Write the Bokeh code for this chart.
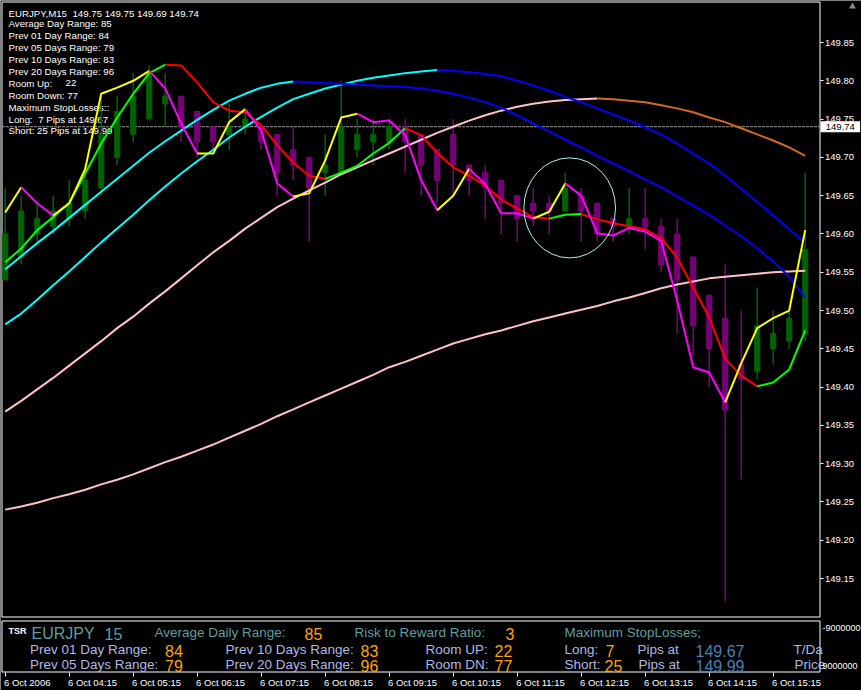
import numpy as np
from bokeh.plotting import figure
from bokeh.models import Range1d, ColumnDataSource, FixedTicker, PrintfTickFormatter, Label
from bokeh.embed import file_html
from bokeh.resources import INLINE
from bokeh.core.properties import value

# ---------------------------------------------------------------- data
symbol = "EURJPY"
period = 15
last_quote = [149.75, 149.75, 149.69, 149.74]
bid = 149.74

# EURJPY M15, 6 Oct 2006 03:15 .. 15:45
opens = [149.54, 149.57, 149.60, 149.61, 149.62, 149.63, 149.66, 149.70, 149.73, 149.75,
         149.77, 149.78, 149.76, 149.74, 149.73, 149.74, 149.74, 149.73, 149.71, 149.70,
         149.68, 149.68, 149.71, 149.72, 149.72, 149.74, 149.73, 149.71, 149.73, 149.69,
         149.68, 149.67, 149.65, 149.64, 149.64, 149.63, 149.65, 149.64, 149.62, 149.61,
         149.62, 149.61, 149.60, 149.57, 149.52, 149.49, 149.43, 149.42, 149.45, 149.46,
         149.47]
highs = [149.66, 149.65, 149.64, 149.65, 149.67, 149.69, 149.78, 149.78, 149.81, 149.82,
         149.81, 149.78, 149.76, 149.74, 149.77, 149.76, 149.74, 149.73, 149.74, 149.70,
         149.73, 149.80, 149.75, 149.75, 149.75, 149.75, 149.73, 149.71, 149.75, 149.69,
         149.69, 149.67, 149.65, 149.66, 149.65, 149.68, 149.66, 149.64, 149.62, 149.66,
         149.66, 149.62, 149.62, 149.57, 149.52, 149.56, 149.50, 149.53, 149.50, 149.50,
         149.68]
lows = [149.54, 149.56, 149.59, 149.60, 149.61, 149.62, 149.65, 149.69, 149.72, 149.75,
        149.74, 149.72, 149.70, 149.71, 149.71, 149.73, 149.71, 149.65, 149.67, 149.59,
        149.65, 149.68, 149.70, 149.69, 149.71, 149.68, 149.65, 149.64, 149.65, 149.65,
        149.62, 149.60, 149.59, 149.61, 149.60, 149.63, 149.59, 149.59, 149.59, 149.60,
        149.58, 149.55, 149.47, 149.44, 149.40, 149.12, 149.28, 149.41, 149.43, 149.45,
        149.46]
closes = [149.60, 149.63, 149.62, 149.63, 149.64, 149.67, 149.73, 149.76, 149.78, 149.81,
          149.78, 149.74, 149.72, 149.72, 149.74, 149.75, 149.72, 149.68, 149.69, 149.66,
          149.69, 149.74, 149.73, 149.73, 149.74, 149.72, 149.69, 149.67, 149.69, 149.67,
          149.66, 149.64, 149.62, 149.63, 149.63, 149.66, 149.63, 149.60, 149.61, 149.62,
          149.61, 149.56, 149.54, 149.48, 149.45, 149.37, 149.41, 149.48, 149.47, 149.49,
          149.58]

# fast trend line (yellow = up leg, magenta = down leg)
fast_line = [149.628, 149.661, 149.640, 149.624, 149.640, 149.685, 149.783, 149.791, 149.800, 149.813,
             149.790, 149.744, 149.705, 149.705, 149.746, 149.763, 149.735, 149.666, 149.649, 149.653,
             149.696, 149.752, 149.757, 149.746, 149.748, 149.729, 149.670, 149.631, 149.650, 149.685,
             149.665, 149.627, 149.627, 149.620, 149.629, 149.666, 149.650, 149.601, 149.598, 149.608,
             149.603, 149.591, 149.513, 149.426, 149.419, 149.380, 149.431, 149.477, 149.490, 149.500,
             149.605]
fast_leg = [1, -1, -1, 1, 1, 1, 1, 1, 1, -1, -1, -1, 1, 1, 1, -1, -1, -1, 1, 1, 1, 1, -1, -1, -1,
            -1, -1, 1, 1, -1, -1, -1, -1, 1, 1, -1, -1, -1, -1, -1, -1, -1, -1, -1, -1, 1, 1, 1, 1, 1]

# signal line (green rising / red falling)
signal_line = [149.563, 149.581, 149.605, 149.622, 149.640, 149.679, 149.718, 149.752, 149.783, 149.810,
               149.821, 149.820, 149.798, 149.772, 149.761, 149.759, 149.742, 149.716, 149.693, 149.676,
               149.672, 149.680, 149.689, 149.705, 149.719, 149.738, 149.729, 149.706, 149.687, 149.676,
               149.663, 149.645, 149.633, 149.622, 149.620, 149.625, 149.626, 149.619, 149.614, 149.610,
               149.606, 149.595, 149.569, 149.530, 149.491, 149.437, 149.415, 149.401, 149.406, 149.423,
               149.474]

# moving averages
ma_fast = [149.554, 149.571, 149.588, 149.604, 149.621, 149.638, 149.655, 149.672, 149.689, 149.706,
           149.721, 149.735, 149.749, 149.762, 149.774, 149.783, 149.791, 149.796, 149.799, 149.798,
           149.797, 149.796, 149.795, 149.794, 149.793, 149.792, 149.790, 149.787, 149.783, 149.778,
           149.772, 149.765, 149.755, 149.744, 149.734, 149.723, 149.713, 149.702, 149.692, 149.682,
           149.671, 149.661, 149.649, 149.637, 149.625, 149.611, 149.597, 149.581, 149.564, 149.544,
           149.517]
ma_slow = [149.482, 149.496, 149.514, 149.533, 149.551, 149.570, 149.589, 149.607, 149.625, 149.644,
           149.662, 149.679, 149.695, 149.710, 149.726, 149.740, 149.753, 149.765, 149.776, 149.783,
           149.790, 149.795, 149.800, 149.804, 149.807, 149.810, 149.812, 149.814, 149.813, 149.811,
           149.809, 149.806, 149.800, 149.794, 149.787, 149.779, 149.772, 149.764, 149.756, 149.748,
           149.739, 149.730, 149.718, 149.705, 149.692, 149.676, 149.659, 149.642, 149.624, 149.606,
           149.588]
ma_long = [149.368, 149.382, 149.397, 149.412, 149.428, 149.444, 149.460, 149.477, 149.492, 149.509,
           149.525, 149.542, 149.559, 149.576, 149.591, 149.607, 149.621, 149.635, 149.646, 149.657,
           149.667, 149.678, 149.687, 149.696, 149.705, 149.714, 149.723, 149.732, 149.740, 149.748,
           149.755, 149.761, 149.766, 149.770, 149.773, 149.775, 149.776, 149.777, 149.776, 149.774,
           149.772, 149.768, 149.764, 149.759, 149.752, 149.746, 149.738, 149.730, 149.722, 149.713,
           149.702]
ma_base = [149.240, 149.244, 149.249, 149.255, 149.260, 149.266, 149.273, 149.279, 149.286, 149.294,
           149.302, 149.309, 149.317, 149.325, 149.334, 149.343, 149.352, 149.362, 149.371, 149.380,
           149.389, 149.398, 149.407, 149.416, 149.426, 149.433, 149.441, 149.449, 149.457, 149.463,
           149.469, 149.474, 149.480, 149.486, 149.491, 149.496, 149.501, 149.506, 149.512, 149.517,
           149.523, 149.529, 149.534, 149.538, 149.542, 149.544, 149.546, 149.548, 149.550, 149.551,
           149.552]

# marked consolidation zone (bar index / price of its centre, size)
zone_bar, zone_price = 35.28, 149.634
zone_bars_wide, zone_price_tall = 5.73, 0.1306

# TSR statistics
avg_daily_range = 85
prev_days = ["01", "05", "10", "20"]
prev_range = [84, 79, 83, 96]
room_up, room_down = 22, 77
risk_reward = 3
long_pips, long_at = 7, 149.67
short_pips, short_at = 25, 149.99

price_ticks = [149.15, 149.20, 149.25, 149.30, 149.35, 149.40, 149.45, 149.50,
               149.55, 149.60, 149.65, 149.70, 149.75, 149.80, 149.85]
time_ticks = [0, 4, 8, 12, 16, 20, 24, 28, 32, 36, 40, 44, 48]
time_labels = ["6 Oct 2006", "6 Oct 04:15", "6 Oct 05:15", "6 Oct 06:15", "6 Oct 07:15",
               "6 Oct 08:15", "6 Oct 09:15", "6 Oct 10:15", "6 Oct 11:15", "6 Oct 12:15",
               "6 Oct 13:15", "6 Oct 14:15", "6 Oct 15:15"]

# ---------------------------------------------------------------- layout
W, H = 861, 690
FL, FR, FT, FB = 1.5, 819.5, 1.5, 616.5   # chart window border (px)
PANEL_T, AXIS_Y = 620, 672                # TSR panel top / time scale line (px)
BAR_PX, BAR0_PX = 16.0, 4.7               # bar spacing and first bar centre
REF_PY, REF_PRICE, PX_PER_PRICE = 42.0, 149.85, 38.29 / 0.05
FONT = value("Liberation Sans")
NB = "\u00a0"


def bar_at(px):
    return (px - BAR0_PX) / BAR_PX


def price_at(py):
    return REF_PRICE - (py - REF_PY) / PX_PER_PRICE


n = len(closes)
idx = np.arange(n)
o, h, l, c = map(np.array, (opens, highs, lows, closes))

p = figure(width=W, height=H, title=None,
           x_range=Range1d(bar_at(0), bar_at(W)),
           y_range=Range1d(price_at(H), price_at(0)),
           x_axis_location="below", y_axis_location="right",
           toolbar_location=None, output_backend="svg",
           min_border_left=0, min_border_right=0, min_border_top=0, min_border_bottom=0,
           background_fill_color="black", border_fill_color="black",
           outline_line_color=None)
p.grid.visible = False
p.extra_x_ranges = {"px": Range1d(0, W)}
p.extra_y_ranges = {"px": Range1d(H, 0)}
PX = dict(x_range_name="px", y_range_name="px")

# price scale drawn along the right edge of the chart window
ax = p.yaxis[0]
ax.fixed_location = bar_at(FR)
ax.ticker = FixedTicker(ticks=price_ticks)
ax.formatter = PrintfTickFormatter(format="%.2f")
ax.axis_line_color = None
ax.major_tick_line_color = "white"
ax.major_tick_out = 3
ax.major_tick_in = 0
ax.minor_tick_line_color = None
ax.major_label_standoff = 2
ax.major_label_text_color = "white"
ax.major_label_text_font = "Liberation Sans"
ax.major_label_text_font_size = "9.5px"

# time scale under the TSR panel; labels start at their tick
CW = {" ": .278, "O": .778, "c": .5, "t": .278, ":": .278}


def text_px(s, size):
    return sum(CW.get(ch, .556) for ch in s) * size


lab_size = 9.5
major = []
for t, lab in zip(time_ticks, time_labels):
    start = BAR0_PX + BAR_PX * t - 1.2
    major.append(round(bar_at(start + text_px(lab, lab_size) / 2), 3))
xa = p.xaxis[0]
xa.fixed_location = price_at(AXIS_Y)
xa.ticker = FixedTicker(ticks=major, minor_ticks=time_ticks)
xa.major_label_overrides = {m: lab for m, lab in zip(major, time_labels)}
xa.axis_line_color = None
xa.major_tick_line_color = None
xa.major_tick_out = 0
xa.major_tick_in = 0
xa.minor_tick_line_color = "white"
xa.minor_tick_out = 4
xa.minor_tick_in = 0
xa.major_label_standoff = 0
xa.major_label_text_color = "white"
xa.major_label_text_font = "Liberation Sans"
xa.major_label_text_font_size = f"{lab_size}px"

# chart window and TSR panel borders
p.quad(left=[FL, FL], right=[FR, FR], top=[FT, PANEL_T + 0.5], bottom=[FB, AXIS_Y - 0.5],
       fill_color=None, line_color="white", line_width=1, **PX)

# bid line
p.segment(x0=[FL], x1=[FR], y0=[bid], y1=[bid], x_range_name="px",
          line_color="#9c9c9c", line_dash="3 1", line_width=1)

# chart info block: (text, x, baseline) in window pixels
info = [(f"{symbol},M{period}{NB}{NB}" + " ".join(f"{v:.2f}" for v in last_quote), 8, 13.0),
        (f"Average Day Range: {avg_daily_range}", 8, 23.0)]
for d, r, yb in zip(prev_days, prev_range, [35.0, 46.8, 59.0, 70.8]):
    info.append((f"Prev {d} {'Day' if d == '01' else 'Days'} Range: {r}", 8, yb))
info += [("Room Up:", 8, 82.5), (str(room_up), 65, 82.5),
         (f"Room Down: {room_down}", 8, 94.8),
         ("Maximum StopLosses::", 8, 106.5),
         (f"Long:{NB}{NB}{long_pips} Pips at {long_at:.2f}", 8, 118.5),
         (f"Short: {short_pips} Pips at {short_at:.2f}", 8, 129.8)]
p.text(x=[t[1] for t in info], y=[t[2] for t in info], text=[t[0] for t in info],
       text_color="white", text_font=FONT, text_font_size=value("9.7px"),
       text_baseline="alphabetic", text_align="left", **PX)

# candles
inc = c >= o
wick_col = np.where(inc, "#006400", "#800080")
p.segment(x0=idx, y0=l, x1=idx, y1=h, line_color=list(wick_col), line_width=1.5)
body_w = 5 / BAR_PX
p.vbar(x=idx[inc], width=body_w, top=c[inc], bottom=o[inc],
       fill_color="#006400", line_color="#006400")
p.vbar(x=idx[~inc], width=body_w, top=o[~inc], bottom=c[~inc],
       fill_color="#760076", line_color="#800080")


def slope_dirs(vals):
    d = np.sign(np.diff(vals))
    for i in range(len(d)):
        if d[i] == 0:
            d[i] = d[i - 1] if i else 1
    return list(d)


def legs(vals, dirs, up, down):
    xs, ys, cols = [], [], []
    s = 0
    for i in range(1, len(dirs) + 1):
        if i == len(dirs) or dirs[i] != dirs[s]:
            xs.append(list(idx[s:i + 1]))
            ys.append(list(vals[s:i + 1]))
            cols.append(up if dirs[s] > 0 else down)
            s = i
    return ColumnDataSource(dict(xs=xs, ys=ys, color=cols))


for vals, up, down in [(ma_base, "#ffc0cb", "#ffc0cb"),
                       (ma_long, "#ffc0cb", "#d2691e"),
                       (ma_slow, "#00ffff", "#0000ff"),
                       (ma_fast, "#00ffff", "#0000ff"),
                       (signal_line, "#00ff00", "#ff0000")]:
    p.multi_line(xs="xs", ys="ys", line_color="color", line_width=2,
                 source=legs(vals, slope_dirs(vals), up, down))

p.multi_line(xs="xs", ys="ys", line_color="color", line_width=2,
             source=legs(fast_line, fast_leg, "#ffff00", "#ff00ff"))

p.ellipse(x=zone_bar, y=zone_price, width=zone_bars_wide, height=zone_price_tall,
          fill_color=None, line_color="#b0f0f0", line_width=1)

# bid price tag on the price scale
p.add_layout(Label(x=FR + 0.5, y=bid, x_range_name="px", text=f"{NB}{NB}{bid:.2f}{NB}{NB}",
                   text_color="black", text_font="Liberation Sans", text_font_size="9.5px",
                   text_baseline="middle", background_fill_color="white"))

# window-control glyph in the top right corner
p.scatter(x=[852], y=[6], marker="triangle", size=7,
          fill_color="#8a8a8a", line_color=None, **PX)

# ---------------------------------------------------------------- TSR panel texts
TEAL, LAV, ORANGE, STEEL = "#5f9ea0", "#b0b8e6", "#ffa500", "#4682b4"
rows = [622, 639, 654]       # cap tops of the three text rows
items = [
    (0, 31, symbol, TEAL, 16), (0, 104, str(period), TEAL, 16),
    (0, 154, "Average Daily Range:", TEAL, 13.5), (0, 304, str(avg_daily_range), ORANGE, 16),
    (0, 354, "Risk to Reward Ratio:", TEAL, 13.5), (0, 505, str(risk_reward), ORANGE, 16),
    (0, 564, "Maximum StopLosses;", TEAL, 13.5),
    (1, 29.5, f"Prev {prev_days[0]} Day Range:", LAV, 13.5), (1, 164.5, str(prev_range[0]), ORANGE, 16),
    (2, 29.5, f"Prev {prev_days[1]} Days Range:", LAV, 13.5), (2, 164.5, str(prev_range[1]), ORANGE, 16),
    (1, 225, f"Prev {prev_days[2]} Days Range:", LAV, 13.5), (1, 360, str(prev_range[2]), ORANGE, 16),
    (2, 225, f"Prev {prev_days[3]} Days Range:", LAV, 13.5), (2, 360, str(prev_range[3]), ORANGE, 16),
    (1, 425, "Room UP:", LAV, 13.5), (1, 494, str(room_up), ORANGE, 16),
    (2, 425, "Room DN:", LAV, 13.5), (2, 494, str(room_down), ORANGE, 16),
    (1, 564, "Long:", LAV, 13.5), (1, 605, str(long_pips), ORANGE, 16),
    (2, 564, "Short:", LAV, 13.5), (2, 604, str(short_pips), ORANGE, 16),
    (1, 637, "Pips at", LAV, 13.5), (1, 695, f"{long_at:.2f}", STEEL, 16),
    (2, 638, "Pips at", LAV, 13.5), (2, 695, f"{short_at:.2f}", STEEL, 16),
    (1, 793, "T/Da", LAV, 13.5), (2, 794, "Price", LAV, 13.5),
]
for size in sorted({it[4] for it in items}):
    sel = [it for it in items if it[4] == size]
    src = ColumnDataSource(dict(x=[it[1] for it in sel],
                                y=[rows[it[0]] + 0.716 * size for it in sel],
                                text=[it[2] for it in sel],
                                color=[it[3] for it in sel]))
    p.text(x="x", y="y", text="text", text_color="color", source=src,
           text_font=FONT, text_font_size=value(f"{size}px"), text_baseline="alphabetic", **PX)

p.text(x=[8], y=[630], text=["TSR"], text_color="white",
       text_font=FONT, text_font_size=value("9px"), text_font_style="bold",
       text_baseline="alphabetic", **PX)
p.text(x=[822, 822], y=[627, 665], text=["-9000000", "9000000"],
       text_color="white", text_font=FONT, text_font_size=value("9px"),
       text_baseline="alphabetic", **PX)

open("out.html", "w").write(file_html(p, INLINE))
